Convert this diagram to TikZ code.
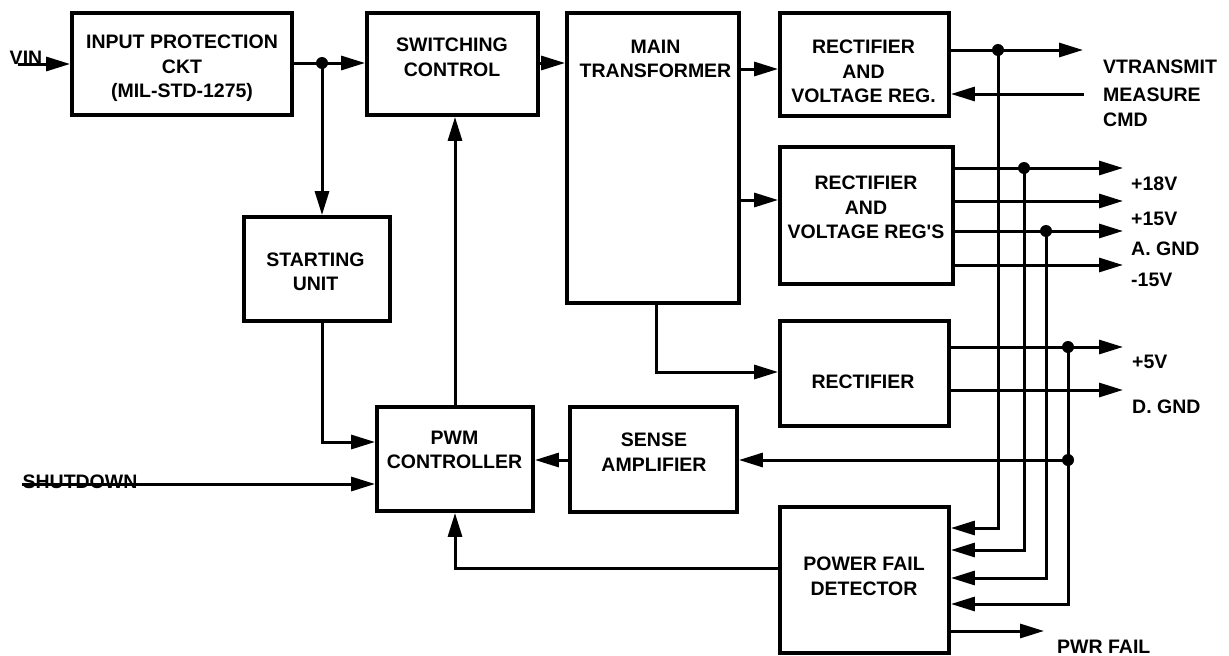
\documentclass[tikz,border=0pt]{standalone}
\usepackage{fontspec}
\setmainfont{Liberation Sans}
\usetikzlibrary{arrows.meta}
\begin{document}
\begin{tikzpicture}[x=1pt,y=-1pt,
  box/.style 2 args={draw,line width=3.8pt,inner sep=0pt,minimum width=#1,minimum height=#2},
  lbl/.style={font=\bfseries\fontsize{19.5}{24.5}\selectfont,align=center,inner sep=0pt},
  sidelbl/.style={lbl,anchor=west},
  wire/.style={line width=3pt},
  arr/.style={wire,-{Triangle[length=24pt,width=14pt]}},
  dotr/.style={fill=black}]
\useasboundingbox (0,0) rectangle (1229,656);
% boxes
\node[box={220}{102}] (ip)  at (182,64) {};
\node[box={171}{102}] (sw)  at (452.5,64) {};
\node[box={172}{290}] (mt)  at (653,158) {};
\node[box={169}{103}] (rv)  at (864.5,64.5) {};
\node[box={173}{137}] (rvs) at (866.5,215.5) {};
\node[box={146}{104}] (st)  at (317,269) {};
\node[box={169}{105}] (rc)  at (864.5,373.5) {};
\node[box={156}{104}] (pwm) at (455,459) {};
\node[box={167}{105}] (sa)  at (653.5,459.5) {};
\node[box={169}{146}] (pfd) at (864.5,580) {};
% box texts
\node[lbl] (ipT)  at (182,68.5) {INPUT PROTECTION\\CKT\\(MIL-STD-1275)};
\node[lbl] (swT)  at (452,57.5) {SWITCHING\\CONTROL};
\node[lbl] (mtT)  at (655.5,59) {MAIN\\TRANSFORMER};
\node[lbl] (rvT)  at (863.5,71.5) {RECTIFIER\\AND\\VOLTAGE REG.};
\node[lbl] (rvsT) at (866,207.5) {RECTIFIER\\AND\\VOLTAGE REG\textquotesingle S};
\node[lbl] (stT)  at (315.5,272) {STARTING\\UNIT};
\node[lbl] (pwmT) at (454.5,450) {PWM\\CONTROLLER};
\node[lbl] (saT)  at (654,452) {SENSE\\AMPLIFIER};
\node[lbl] (rcT)  at (863,381.5) {RECTIFIER};
\node[lbl] (pfdT) at (864,576.5) {POWER FAIL\\DETECTOR};
% outer labels
\node[lbl] (vinT) at (26,58) {VIN};
\node[lbl] (sdT)  at (80,481.5) {SHUTDOWN};
\node[sidelbl] (vtT)  at (1103,66.7) {VTRANSMIT};
\node[sidelbl,align=left] (mcT) at (1103,107.5) {MEASURE\\CMD};
\node[sidelbl] (p18T) at (1131,184) {+18V};
\node[sidelbl] (p15T) at (1131,219) {+15V};
\node[sidelbl] (agT)  at (1131,248.3) {A. GND};
\node[sidelbl] (m15T) at (1131,280) {-15V};
\node[sidelbl] (p5T)  at (1132,362) {+5V};
\node[sidelbl] (dgT)  at (1132,406.7) {D. GND};
\node[sidelbl] (pfT)  at (1057,646.7) {PWR FAIL};
% coordinates
\coordinate (vin) at (18,64);
\coordinate (j1) at (322,63);
\coordinate (t1) at (0,69);
\coordinate (t2) at (0,200);
\coordinate (t3) at (656,372);
\coordinate (s1) at (322,442);
\coordinate (sd) at (22,484);
\coordinate (p1) at (455,0);
\coordinate (f1) at (455,568);
\coordinate (sa1) at (0,460);
\coordinate (j5b) at (1068,460);
\coordinate (vt) at (1083,50);
\coordinate (jv) at (998,50);
\coordinate (mc) at (1084,94);
\coordinate (o18) at (1123,168);
\coordinate (o15) at (1123,201);
\coordinate (oag) at (1123,231);
\coordinate (om15) at (1123,265);
\coordinate (o5) at (1123,347);
\coordinate (odg) at (1123,390);
\coordinate (pf) at (1044,631);
\coordinate (j18) at (1024,168);
\coordinate (jag) at (1046,231);
\coordinate (j5) at (1068,347);
\coordinate (q1) at (998,528);
\coordinate (q2) at (1024,550);
\coordinate (q3) at (1046,578);
\coordinate (q4) at (1068,604);
% connectors
\draw[arr] (vin) -- (ip.west |- vin);
\draw[arr] (ip.east |- j1) -- (sw.west |- j1);
\draw[arr] (j1) -- (st.north -| j1);
\draw[arr] (sw.east |- j1) -- (mt.west |- j1);
\draw[arr] (mt.east |- t1) -- (rv.west |- t1);
\draw[arr] (mt.east |- t2) -- (rvs.west |- t2);
\draw[arr] (mt.south -| t3) -- (t3) -- (rc.west |- t3);
\draw[arr] (st.south -| s1) -- (s1) -- (pwm.west |- s1);
\draw[arr] (sd) -- (pwm.west |- sd);
\draw[arr] (pwm.north -| p1) -- (sw.south -| p1);
\draw[arr] (pfd.west |- f1) -- (f1) -- (pwm.south -| f1);
\draw[arr] (sa.west |- sa1) -- (pwm.east |- sa1);
\draw[arr] (j5b) -- (sa.east |- j5b);
\draw[arr] (rv.east |- vt) -- (vt);
\draw[arr] (mc) -- (rv.east |- mc);
\draw[arr] (rvs.east |- o18) -- (o18);
\draw[arr] (rvs.east |- o15) -- (o15);
\draw[arr] (rvs.east |- oag) -- (oag);
\draw[arr] (rvs.east |- om15) -- (om15);
\draw[arr] (rc.east |- o5) -- (o5);
\draw[arr] (rc.east |- odg) -- (odg);
\draw[arr] (pfd.east |- pf) -- (pf);
\draw[arr] (jv) -- (q1) -- (pfd.east |- q1);
\draw[arr] (j18) -- (q2) -- (pfd.east |- q2);
\draw[arr] (jag) -- (q3) -- (pfd.east |- q3);
\draw[arr] (j5) -- (q4) -- (pfd.east |- q4);
% junction dots
\foreach \p in {j1,jv,j18,jag,j5,j5b} \fill[dotr] (\p) circle (6);
\end{tikzpicture}
\end{document}
